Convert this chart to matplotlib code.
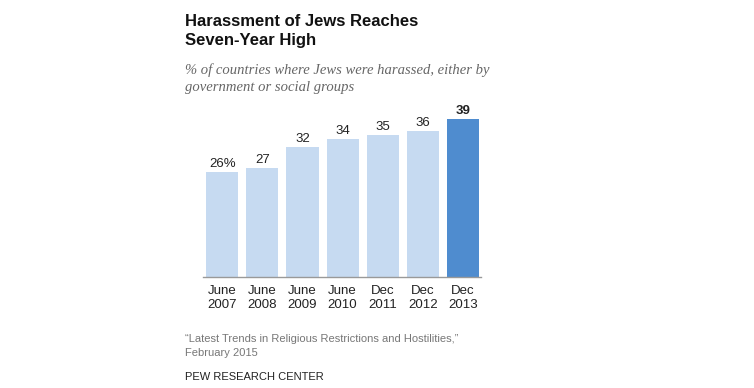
import matplotlib.pyplot as plt

# Data
periods = ["June\n2007", "June\n2008", "June\n2009", "June\n2010", "Dec\n2011", "Dec\n2012", "Dec\n2013"]
values = [26, 27, 32, 34, 35, 36, 39]
value_labels = ["26%", "27", "32", "34", "35", "36", "39"]

W, H = 754, 388
fig = plt.figure(figsize=(W / 100, H / 100), dpi=100)
fig.set_facecolor("white")


def px(x, y):
    return x / W, 1 - y / H


# axes placed in pixel coords: baseline at y=277, top of 39 at y=119
ax_left, ax_right, ax_base, ax_top = 203, 481, 277, 119
ax = fig.add_axes([ax_left / W, 1 - ax_base / H, (ax_right - ax_left) / W, (ax_base - ax_top) / H])
ax.set_ylim(0, 39)
ax.set_xlim(-0.48, 6.45)

colors = ["#C6DAF1"] * 6 + ["#4F8CCF"]
xs = range(len(values))
ax.bar(xs, values, width=0.8, color=colors, zorder=2)

for x, v, lab in zip(xs, values, value_labels):
    ax.text(x, v + 1.2, lab, ha="center", va="baseline", fontsize=9.5,
            fontweight="bold" if x == len(values) - 1 else "normal",
            family="Liberation Sans", color="#222222", clip_on=False)

ax.set_xticks(list(xs))
ax.set_xticklabels(periods, fontsize=9.5, family="Liberation Sans", color="#222222", linespacing=1.2)
ax.tick_params(axis="x", length=0, pad=6)
ax.set_yticks([])
for s in ["top", "right", "left"]:
    ax.spines[s].set_visible(False)
ax.spines["bottom"].set_color("#999999")
ax.spines["bottom"].set_linewidth(1.0)

# Title and subtitle
for y, line in [(26, "Harassment of Jews Reaches"), (45, "Seven-Year High")]:
    fig.text(*px(185, y), line, fontsize=12, fontweight="bold",
             family="Liberation Sans", color="#111111", va="baseline")
for y, line in [(74, "% of countries where Jews were harassed, either by"),
                (91, "government or social groups")]:
    fig.text(*px(185, y), line, fontsize=10.5, style="italic", family="Liberation Serif",
             color="#666666", va="baseline")

# Footer
for y, line in [(342, "\u201cLatest Trends in Religious Restrictions and Hostilities,\u201d"),
                (356, "February 2015")]:
    fig.text(*px(185, y), line, fontsize=8, family="Liberation Sans", color="#777777", va="baseline")
fig.text(*px(185, 380), "PEW RESEARCH CENTER", fontsize=8, family="Liberation Sans",
         color="#222222", va="baseline")

fig.savefig("out.png", dpi=100)
